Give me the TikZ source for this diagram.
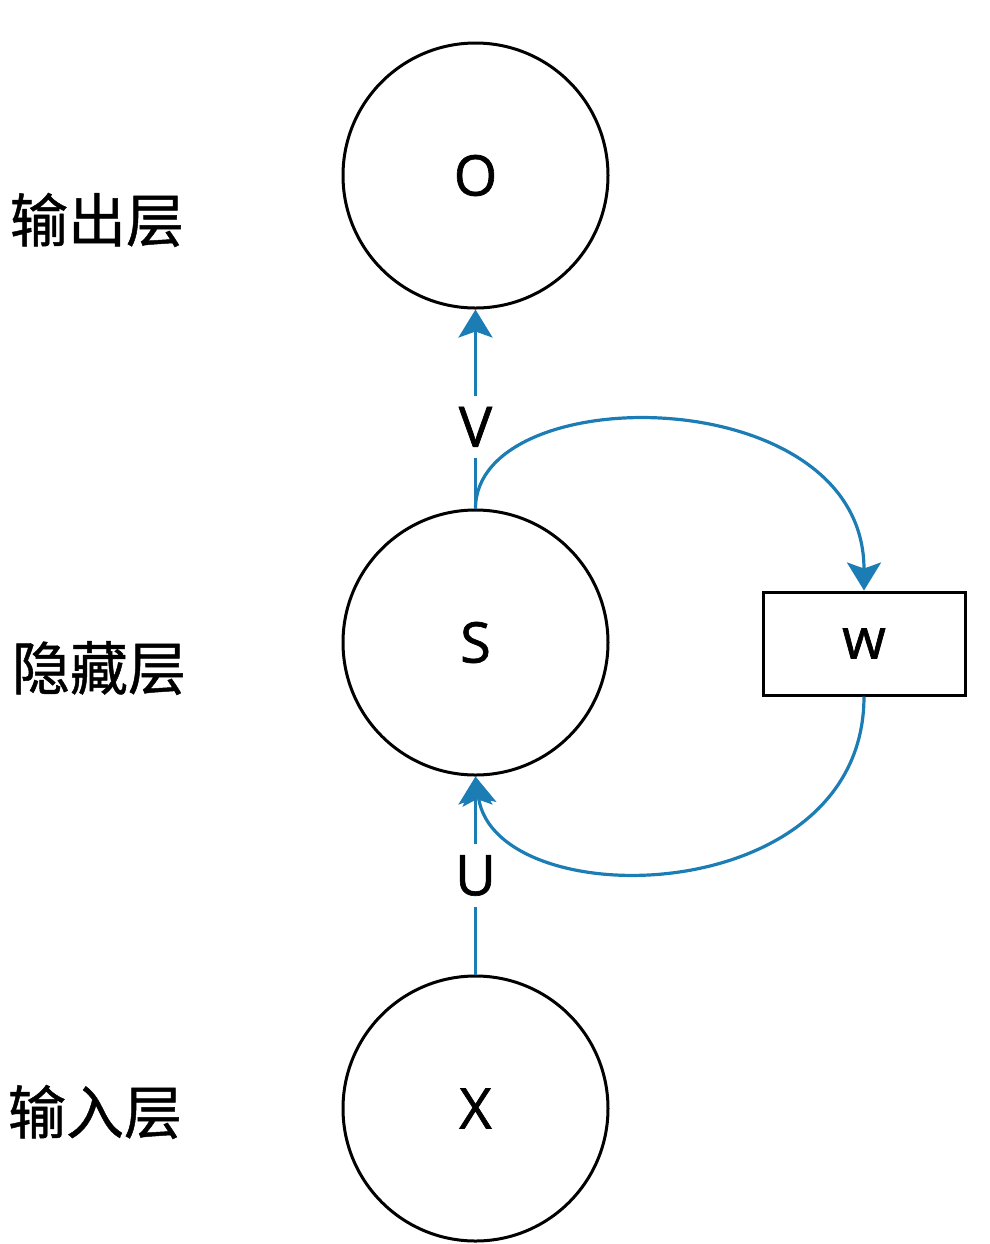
\documentclass[tikz,border=0pt]{standalone}
\usepackage{fontspec}
\setmainfont{Open Sans}
\newfontfamily\lettfont{Open Sans}[FakeBold=1.2]
\newfontfamily\cjk{Noto Sans CJK SC}[FakeBold=0.8]
\usetikzlibrary{arrows.meta}
\definecolor{flowblue}{RGB}{28,125,180}
\tikzset{
  layer/.style={circle,draw=black,line width=1.5pt,minimum size=132.5pt,inner sep=0pt,font=\lettfont\fontsize{28}{30}\selectfont},
  wbox/.style={rectangle,draw=black,line width=1.5pt,minimum width=101pt,minimum height=51.5pt,inner sep=0pt,font=\lettfont\fontsize{28}{30}\selectfont},
  flow/.style={draw=flowblue,line width=1.6pt,-{Stealth[length=14pt,width=17pt,inset=3pt]}},
  wlabel/.style={fill=white,inner xsep=3pt,inner ysep=5.5pt,font=\lettfont\fontsize{28}{30}\selectfont},
  layername/.style={font=\cjk\fontsize{29}{31}\selectfont,inner sep=0pt}
}
\begin{document}
\begin{tikzpicture}[x=0.5pt,y=-0.5pt]
\useasboundingbox (0,0) rectangle (990,1244);
\node[layer] (O) at (475.5,175.5) {O};
\node[layer] (S) at (475.5,642.5) {S};
\node[layer] (X) at (475.5,1108.5) {X};
\node[wbox] (W) at (864,643.5) {w};
\node[layername] (lo) at (97,220) {输出层};
\node[layername] (lh) at (99,668) {隐藏层};
\node[layername] (li) at (95,1112) {输入层};
\draw[flow] (S.north) -- node[wlabel,pos=0.41] (V) {V} (O.south);
\draw[flow] (X.north) -- node[wlabel,pos=0.5] (U) {U} (S.south);
\draw[flow] (S.north) .. controls +(0,-130) and +(0,-212) .. (W.north);
\draw[flow] (W.south) .. controls +(0,215) and +(20,140) .. (S.south);
\end{tikzpicture}
\end{document}
